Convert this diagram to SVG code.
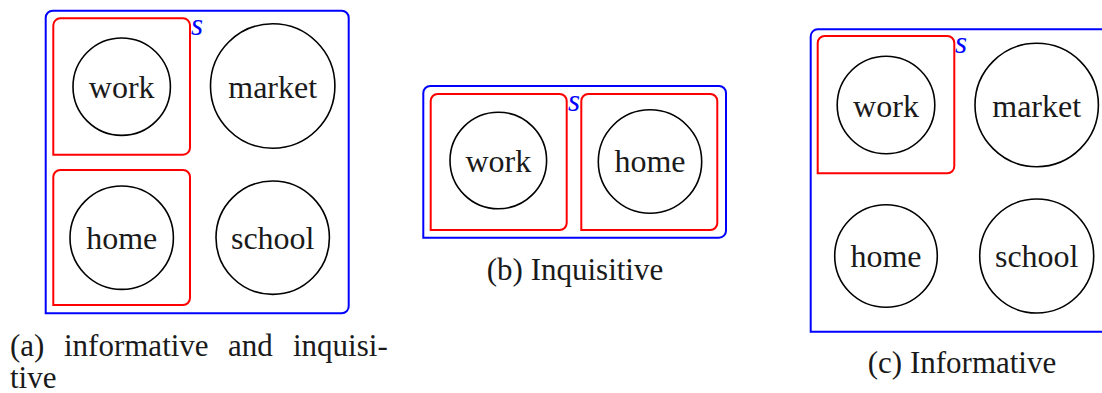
<svg xmlns="http://www.w3.org/2000/svg" width="1102" height="393" viewBox="0 0 1102 393">
<defs>
<style>
text{font-family:'Liberation Serif',serif}
</style>
</defs>
<rect width="1102" height="393" fill="#fff"/>
<g id="panel-a">
<path fill="none" stroke="#0000ff" stroke-width="2" d="M45.7,313.3 L45.7,17.7 A7,7 0 0 1 52.7,10.7 L341.7,10.7 A7,7 0 0 1 348.7,17.7 L348.7,306.3 A7,7 0 0 1 341.7,313.3 Z"/>
<text x="191" y="35" style="font-family:'Liberation Serif',serif;font-style:italic" font-size="31" fill="#0000ff">s</text>
<path fill="none" stroke="#ff0000" stroke-width="2" d="M53.3,154.7 L53.3,25.3 A7,7 0 0 1 60.3,18.3 L183,18.3 A7,7 0 0 1 190,25.3 L190,147.7 A7,7 0 0 1 183,154.7 Z"/>
<path fill="none" stroke="#ff0000" stroke-width="2" d="M53.3,305 L53.3,177 A7,7 0 0 1 60.3,170 L183,170 A7,7 0 0 1 190,177 L190,298 A7,7 0 0 1 183,305 Z"/>
<g id="a-work"><circle fill="none" stroke="#000" stroke-width="1.6" cx="121.7" cy="86.7" r="48.7"/><text x="121.7" y="98" style="font-family:'Liberation Serif',serif" font-size="32" fill="#1a1a1a" text-anchor="middle">work</text></g>
<g id="a-market"><circle fill="none" stroke="#000" stroke-width="1.6" cx="272.7" cy="86" r="62.2"/><text x="272.7" y="98" style="font-family:'Liberation Serif',serif" font-size="32" fill="#1a1a1a" text-anchor="middle">market</text></g>
<g id="a-home"><circle fill="none" stroke="#000" stroke-width="1.6" cx="121.7" cy="237.7" r="51.7"/><text x="121.7" y="248.5" style="font-family:'Liberation Serif',serif" font-size="32" fill="#1a1a1a" text-anchor="middle">home</text></g>
<g id="a-school"><circle fill="none" stroke="#000" stroke-width="1.6" cx="272.7" cy="237.7" r="56.7"/><text x="272.7" y="248.5" style="font-family:'Liberation Serif',serif" font-size="32" fill="#1a1a1a" text-anchor="middle">school</text></g>
<text y="356" style="font-family:'Liberation Serif',serif" font-size="31" fill="#1a1a1a"><tspan x="10">(a)</tspan><tspan x="64">informative</tspan><tspan x="228">and</tspan><tspan x="293">inquisi-</tspan></text>
<text x="10" y="388" style="font-family:'Liberation Serif',serif" font-size="31" fill="#1a1a1a">tive</text>
</g>
<g id="panel-b">
<path fill="none" stroke="#0000ff" stroke-width="2" d="M423.3,237.7 L423.3,93 A7,7 0 0 1 430.3,86 L719,86 A7,7 0 0 1 726,93 L726,230.7 A7,7 0 0 1 719,237.7 Z"/>
<text x="568" y="111" style="font-family:'Liberation Serif',serif;font-style:italic" font-size="31" fill="#0000ff">s</text>
<path fill="none" stroke="#ff0000" stroke-width="2" d="M430.7,230 L430.7,101 A7,7 0 0 1 437.7,94 L559.7,94 A7,7 0 0 1 566.7,101 L566.7,223 A7,7 0 0 1 559.7,230 Z"/>
<path fill="none" stroke="#ff0000" stroke-width="2" d="M581.3,230 L581.3,101 A7,7 0 0 1 588.3,94 L710.3,94 A7,7 0 0 1 717.3,101 L717.3,223 A7,7 0 0 1 710.3,230 Z"/>
<g id="b-work"><circle fill="none" stroke="#000" stroke-width="1.6" cx="498.3" cy="160.5" r="48.3"/><text x="498.3" y="172" style="font-family:'Liberation Serif',serif" font-size="32" fill="#1a1a1a" text-anchor="middle">work</text></g>
<g id="b-home"><circle fill="none" stroke="#000" stroke-width="1.6" cx="650" cy="161.5" r="51.7"/><text x="650" y="172" style="font-family:'Liberation Serif',serif" font-size="32" fill="#1a1a1a" text-anchor="middle">home</text></g>
<text x="575" y="280" style="font-family:'Liberation Serif',serif" font-size="31" fill="#1a1a1a" text-anchor="middle">(b) Inquisitive</text>
</g>
<g id="panel-c">
<path fill="none" stroke="#0000ff" stroke-width="2" d="M1115,331.7 L810.7,331.7 L810.7,36.3 A7,7 0 0 1 817.7,29.3 L1115,29.3"/>
<text x="955" y="53" style="font-family:'Liberation Serif',serif;font-style:italic" font-size="31" fill="#0000ff">s</text>
<path fill="none" stroke="#ff0000" stroke-width="2" d="M817.7,173.3 L817.7,43 A7,7 0 0 1 824.7,36 L947.3,36 A7,7 0 0 1 954.3,43 L954.3,166.3 A7,7 0 0 1 947.3,173.3 Z"/>
<g id="c-work"><circle fill="none" stroke="#000" stroke-width="1.6" cx="886" cy="105" r="48.8"/><text x="886" y="116.5" style="font-family:'Liberation Serif',serif" font-size="32" fill="#1a1a1a" text-anchor="middle">work</text></g>
<g id="c-market"><circle fill="none" stroke="#000" stroke-width="1.6" cx="1036.7" cy="105" r="61.7"/><text x="1036.7" y="116.5" style="font-family:'Liberation Serif',serif" font-size="32" fill="#1a1a1a" text-anchor="middle">market</text></g>
<g id="c-home"><circle fill="none" stroke="#000" stroke-width="1.6" cx="886" cy="256" r="51.3"/><text x="886" y="267" style="font-family:'Liberation Serif',serif" font-size="32" fill="#1a1a1a" text-anchor="middle">home</text></g>
<g id="c-school"><circle fill="none" stroke="#000" stroke-width="1.6" cx="1036.7" cy="256" r="57"/><text x="1036.7" y="267" style="font-family:'Liberation Serif',serif" font-size="32" fill="#1a1a1a" text-anchor="middle">school</text></g>
<text x="962" y="373" style="font-family:'Liberation Serif',serif" font-size="31" fill="#1a1a1a" text-anchor="middle">(c) Informative</text>
</g>
</svg>
